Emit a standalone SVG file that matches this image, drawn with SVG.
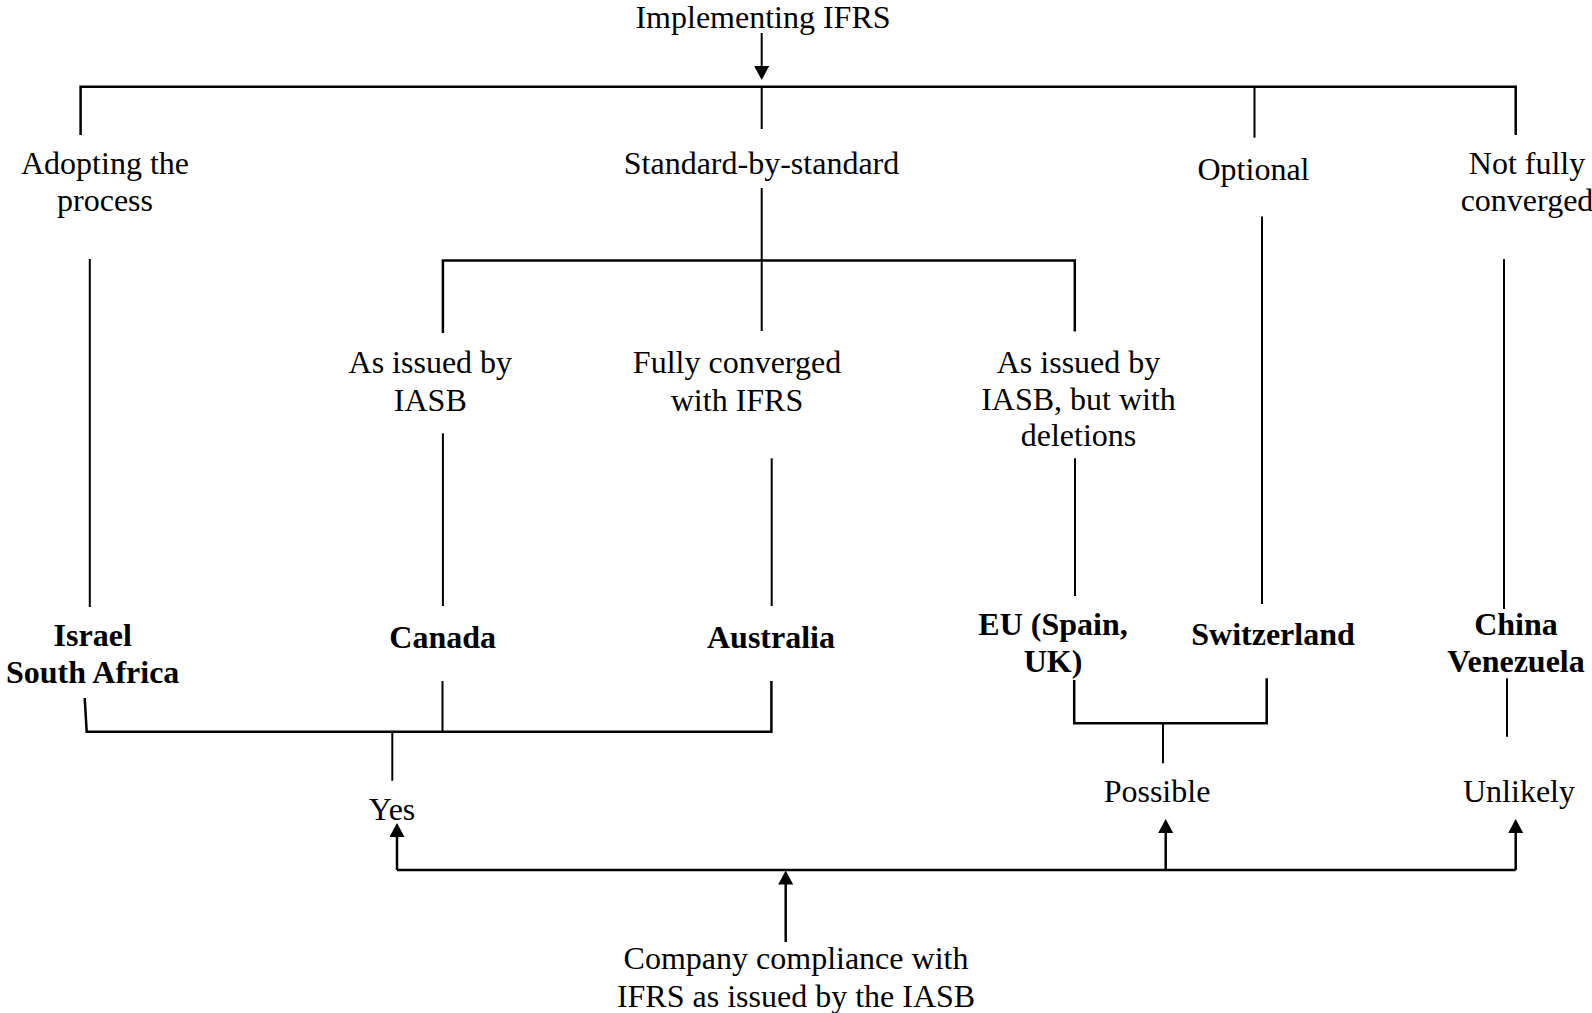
<svg xmlns="http://www.w3.org/2000/svg" width="1592" height="1013" viewBox="0 0 1592 1013">
<style>
  text { font-family: "Liberation Serif", "Times New Roman", serif; font-size: 32px; fill: #000; text-anchor: middle; }
  .b { font-weight: bold; }
  .ln { fill: none; stroke: #000; stroke-width: 2; }
  .h { fill: none; stroke: #000; stroke-width: 2.5; }
</style>
<defs>
  <marker id="arr" markerUnits="userSpaceOnUse" markerWidth="15" markerHeight="16" refX="10" refY="7.5" orient="auto">
    <path d="M0,0 L14,7.5 L0,15 z" fill="#000"/>
  </marker>
</defs>
<rect width="1592" height="1013" fill="#fff"/>
<g id="connectors">
  <path class="ln" d="M761.7 33 V76" marker-end="url(#arr)"/>
  <path class="h" d="M80.6 135 V86.7 H1515.7 V135"/>
  <path class="ln" d="M1254.5 86.7 V137.7"/>
  <path class="ln" d="M761.7 86.7 V129"/>
  <path class="ln" d="M761.7 188 V331"/>
  <path class="h" d="M442.9 333 V260.5 H1074.8 V331.5"/>
  <path class="ln" d="M89.8 259 V607"/>
  <path class="ln" d="M1262 216.5 V604"/>
  <path class="ln" d="M1504 259 V609"/>
  <path class="ln" d="M442.9 433.3 V606"/>
  <path class="ln" d="M771.7 458.3 V606"/>
  <path class="ln" d="M1075 458.3 V596"/>
  <path class="h" d="M84.7 698 L86.7 731.7 H771.4 V681"/>
  <path class="ln" d="M442.5 681 V731.7"/>
  <path class="ln" d="M392.3 731.7 V780.7"/>
  <path class="h" d="M1074.2 680 V723.3 H1266.7 V678.3"/>
  <path class="ln" d="M1163 723.3 V763.3"/>
  <path class="ln" d="M1507 678.3 V736.7"/>
  <path class="h" d="M397 870 H1515.7"/>
  <path class="h" d="M397 870 V827" marker-end="url(#arr)"/>
  <path class="h" d="M1165.7 870 V823" marker-end="url(#arr)"/>
  <path class="h" d="M1515.7 870 V823" marker-end="url(#arr)"/>
  <path class="h" d="M785.7 942 V874.5" marker-end="url(#arr)"/>
</g>
<g id="n-implementing"><text x="763" y="28">Implementing IFRS</text></g>
<g id="n-adopting"><text x="105" y="174">Adopting the</text><text x="105" y="211">process</text></g>
<g id="n-standard"><text x="761.5" y="174">Standard-by-standard</text></g>
<g id="n-optional"><text x="1253.5" y="180">Optional</text></g>
<g id="n-notfully"><text x="1527" y="174">Not fully</text><text x="1527" y="211">converged</text></g>
<g id="n-asissued"><text x="430.3" y="373">As issued by</text><text x="430.3" y="410.5">IASB</text></g>
<g id="n-fully"><text x="737" y="373">Fully converged</text><text x="737" y="410.5">with IFRS</text></g>
<g id="n-deletions"><text x="1078.5" y="373">As issued by</text><text x="1078.5" y="410">IASB, but with</text><text x="1078.5" y="446">deletions</text></g>
<g id="n-israel"><text class="b" x="92.7" y="645.5">Israel</text><text class="b" x="92.7" y="682.5">South Africa</text></g>
<g id="n-canada"><text class="b" x="442.7" y="648">Canada</text></g>
<g id="n-australia"><text class="b" x="771" y="648">Australia</text></g>
<g id="n-eu"><text class="b" x="1053" y="634.5">EU (Spain,</text><text class="b" x="1053" y="671.5">UK)</text></g>
<g id="n-switzerland"><text class="b" x="1273" y="644.5">Switzerland</text></g>
<g id="n-china"><text class="b" x="1516" y="634.5">China</text><text class="b" x="1516" y="671.5">Venezuela</text></g>
<g id="n-yes"><text x="392" y="820">Yes</text></g>
<g id="n-possible"><text x="1157" y="802">Possible</text></g>
<g id="n-unlikely"><text x="1519" y="802">Unlikely</text></g>
<g id="n-company"><text x="796" y="969">Company compliance with</text><text x="796" y="1006.5">IFRS as issued by the IASB</text></g>
</svg>
